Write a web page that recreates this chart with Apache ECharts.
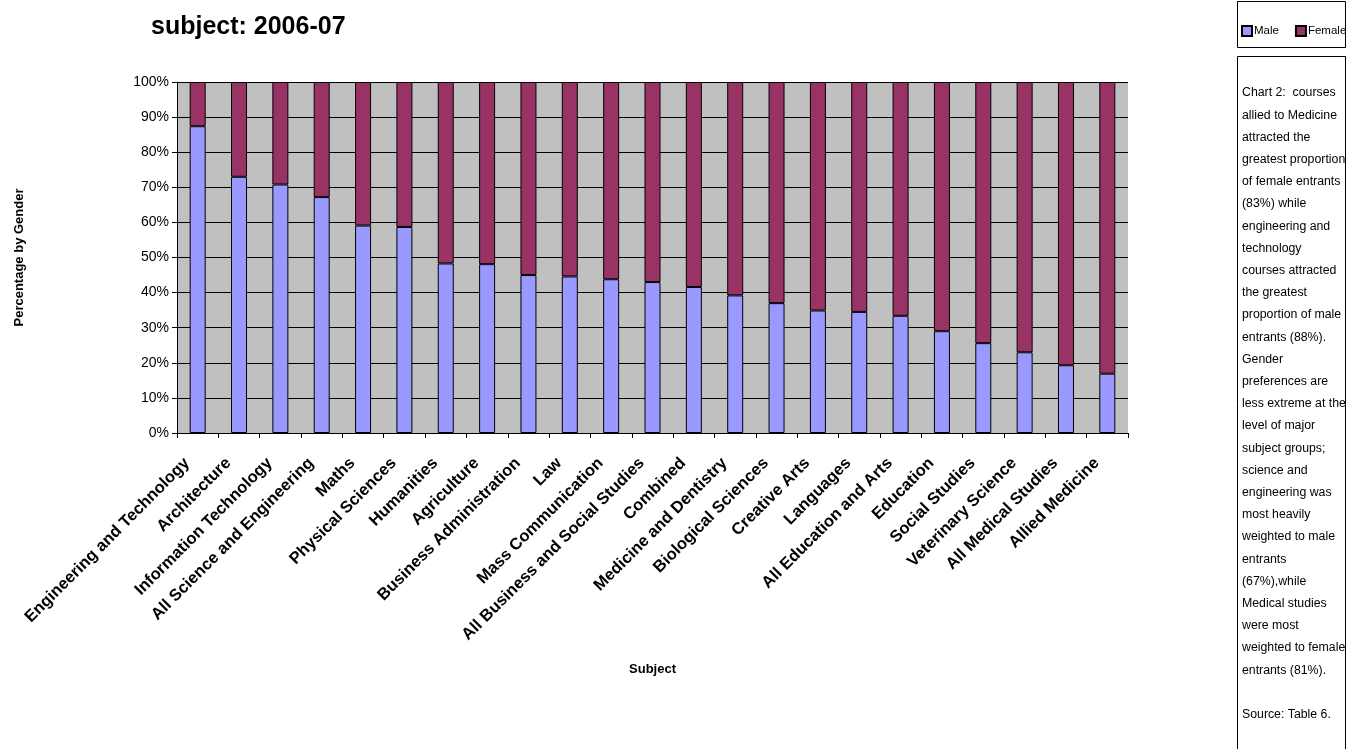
<!DOCTYPE html>
<html>
<head>
<meta charset="utf-8">
<script src="https://cdn.jsdelivr.net/npm/echarts@6/dist/echarts.min.js"></script>
<style>html,body{margin:0;padding:0;background:#fff}#c{width:1348px;height:749px}</style>
</head>
<body>
<div id="c"></div>
<script>
const categories = ["Engineering and Technology","Architecture","Information Technology","All Science and Engineering","Maths","Physical Sciences","Humanities","Agriculture","Business Administration","Law","Mass Communication","All Business and Social Studies","Combined","Medicine and Dentistry","Biological Sciences","Creative Arts","Languages","All Education and Arts","Education","Social Studies","Veterinary Science","All Medical Studies","Allied Medicine"];
const maleValues = [87.4,73.0,70.8,67.2,59.1,58.7,48.3,48.1,45.0,44.6,43.8,43.0,41.6,39.2,37.0,34.9,34.5,33.4,29.0,25.6,23.0,19.3,16.9];
const femaleValues = [12.6,27.0,29.2,32.8,40.9,41.3,51.7,51.9,55.0,55.4,56.2,57.0,58.4,60.8,63.0,65.1,65.5,66.6,71.0,74.4,77.0,80.7,83.1];
const yTicks = [0,10,20,30,40,50,60,70,80,90,100];
const titleText = "subject: 2006-07";
const noteText = "Chart 2:  courses\nallied to Medicine\nattracted the\ngreatest proportion\nof female entrants\n(83%) while\nengineering and\ntechnology\ncourses attracted\nthe greatest\nproportion of male\nentrants (88%).\nGender\npreferences are\nless extreme at the\nlevel of major\nsubject groups;\nscience and\nengineering was\nmost heavily\nweighted to male\nentrants\n(67%),while\nMedical studies\nwere most\nweighted to female\nentrants (81%).\n\nSource: Table 6.";

const FONT = "Liberation Sans, Arial, sans-serif";
const chart = echarts.init(document.getElementById('c'), null, {renderer:'canvas'});
chart.setOption({
  backgroundColor: '#ffffff',
  animation: false,
  textStyle: {fontFamily: FONT, color: '#000'},
  title: {
    text: titleText, left: 146, top: 10,
    textStyle: {fontFamily: FONT, fontSize: 25, fontWeight: 'bold', color: '#000'}
  },
  legend: {
    left: 1241, top: 25, width: 300, itemWidth: 10, itemHeight: 10, itemGap: 16,
    icon: 'rect', padding: 0,
    textStyle: {fontFamily: FONT, fontSize: 11.5, color: '#000', padding: [0,0,0,-3]},
    data: ['Male','Female']
  },
  grid: {left: 177, right: 220, top: 82, bottom: 316, show: true, backgroundColor: '#C0C0C0', borderWidth: 0},
  xAxis: {
    type: 'category', data: categories, boundaryGap: true,
    name: 'Subject', nameLocation: 'middle', nameGap: 230,
    nameTextStyle: {fontFamily: FONT, fontSize: 13, fontWeight: 'bold', color: '#000'},
    axisLine: {lineStyle: {color: '#000', width: 1}},
    axisTick: {show: true, length: 5, alignWithLabel: false, lineStyle: {color: '#000'}},
    axisLabel: {rotate: 45, interval: 0, fontFamily: FONT, fontSize: 16.5, fontWeight: 'bold', color: '#000', margin: 17, padding: [0, 15, 0, 0]},
    splitLine: {show: false}
  },
  yAxis: {
    type: 'value', min: 0, max: 100, interval: 10,
    name: 'Percentage by Gender', nameLocation: 'middle', nameGap: 151, nameRotate: 90,
    nameTextStyle: {fontFamily: FONT, fontSize: 13, fontWeight: 'bold', color: '#000'},
    axisLine: {show: true, lineStyle: {color: '#000', width: 1}},
    axisTick: {show: true, length: 5, lineStyle: {color: '#000'}},
    axisLabel: {fontFamily: FONT, fontSize: 14, color: '#000', margin: 8,
      formatter: v => yTicks.includes(v) ? v + '%' : ''},
    splitLine: {show: true, lineStyle: {color: '#000', width: 1}}
  },
  series: [
    {name: 'Male', type: 'bar', stack: 'g', data: maleValues, barWidth: 16,
     itemStyle: {color: '#9999FF', borderColor: '#000', borderWidth: 1}},
    {name: 'Female', type: 'bar', stack: 'g', data: femaleValues, barWidth: 16,
     itemStyle: {color: '#993366', borderColor: '#000', borderWidth: 1}}
  ],
  graphic: [
    {type: 'rect', shape: {x: 1237.5, y: 1.5, width: 108, height: 46}, style: {fill: 'none', stroke: '#000', lineWidth: 1}, z: 100},
    {type: 'rect', shape: {x: 1237.5, y: 56.5, width: 108, height: 700}, style: {fill: '#fff', stroke: '#000', lineWidth: 1}, z: 100},
    {type: 'text', x: 1242, y: 82, z: 101,
     style: {text: noteText, fontFamily: FONT, fontSize: 12.3, lineHeight: 22.2, fill: '#000', textVerticalAlign: 'top'}}
  ]
});
</script>
</body>
</html>
